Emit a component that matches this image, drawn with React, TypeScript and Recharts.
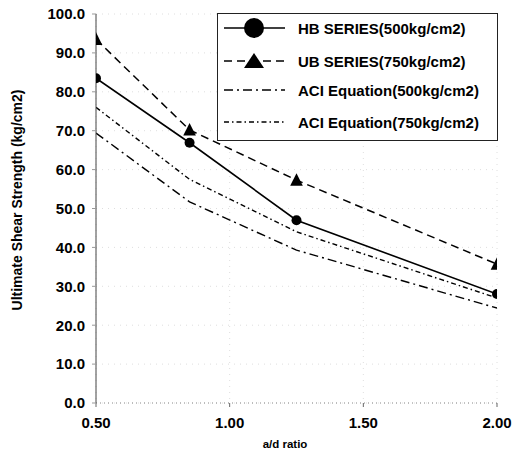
import { LineChart, Line, XAxis, YAxis, CartesianGrid, Label } from 'recharts';

const ratios = [0.5, 0.85, 1.25, 2.0];
const hbSeries = [83.5, 66.9, 47.0, 28.0];
const ubSeries = [93.5, 70.2, 57.3, 35.7];
const aci500 = [69.4, 51.7, 39.3, 24.4];
const aci750 = [76.0, 57.5, 44.0, 27.0];

const xTicks = [0.5, 1.0, 1.5, 2.0];
const yTicks = [0, 10, 20, 30, 40, 50, 60, 70, 80, 90, 100];

const SERIES = [
  { key: 'hb', name: 'HB SERIES(500kg/cm2)', dash: undefined as string | undefined, marker: 'circle' },
  { key: 'ub', name: 'UB SERIES(750kg/cm2)', dash: '8 5', marker: 'triangle' },
  { key: 'aci500', name: 'ACI Equation(500kg/cm2)', dash: '9 4 2 4', marker: 'none' },
  { key: 'aci750', name: 'ACI Equation(750kg/cm2)', dash: '5 3 1.5 3', marker: 'none' },
];

const data = ratios.map((r, i) => ({
  ratio: r,
  hb: hbSeries[i],
  ub: ubSeries[i],
  aci500: aci500[i],
  aci750: aci750[i],
}));

const FONT = '"Liberation Sans", Arial, sans-serif';

function CircleDot(props: any) {
  const { cx, cy, index } = props;
  return <circle key={`c-${index}`} cx={cx} cy={cy} r={5} fill="#000" />;
}

function TriangleDot(props: any) {
  const { cx, cy, index } = props;
  const s = 6.3;
  return (
    <path
      key={`t-${index}`}
      d={`M${cx},${cy - s * 1.1} L${cx + s},${cy + s * 0.9} L${cx - s},${cy + s * 0.9} Z`}
      fill="#000"
    />
  );
}

// legend box drawn over the plot, top right
function LegendBox() {
  const rows = [28, 61, 90, 122];
  return (
    <div
      style={{
        position: 'absolute',
        left: 217,
        top: 13,
        width: 281,
        height: 128,
        border: '1px solid #222',
        background: '#fff',
        boxSizing: 'border-box',
      }}
    >
      <svg width={279} height={126} style={{ position: 'absolute', left: 0, top: 0 }}>
        {SERIES.map((s, i) => {
          const y = rows[i] - 14;
          return (
            <g key={s.key}>
              <line x1={6} x2={67} y1={y} y2={y} stroke="#000" strokeWidth={1.4} strokeDasharray={s.dash} />
              {s.marker === 'circle' && <circle cx={36} cy={y} r={10} fill="#000" />}
              {s.marker === 'triangle' && (
                <path d={`M36,${y - 8} L46,${y + 7} L26,${y + 7} Z`} fill="#000" />
              )}
              <text x={80} y={y + 5.5} fontSize={15} fontWeight="bold" fill="#000" fontFamily={FONT}>
                {s.name}
              </text>
            </g>
          );
        })}
      </svg>
    </div>
  );
}

export default function App() {
  return (
    <div style={{ position: 'absolute', left: 0, top: 0, width: 520, height: 453, background: '#fff' }}>
      <LineChart
        width={520}
        height={453}
        data={data}
        margin={{ top: 14, right: 23, bottom: 0, left: 0 }}
        style={{ fontFamily: FONT }}
      >
        <CartesianGrid stroke="#d6d6d6" strokeDasharray="1 5" strokeWidth={0.8} />
        <XAxis
          dataKey="ratio"
          type="number"
          domain={[0.5, 2]}
          ticks={xTicks}
          tickFormatter={(v: number) => v.toFixed(2)}
          height={50}
          tickSize={4}
          tickMargin={10}
          tick={{ fontSize: 15, fontWeight: 'bold', fill: '#000', fontFamily: FONT }}
          axisLine={{ stroke: '#888', strokeDasharray: '1 3' }}
          tickLine={{ stroke: '#666' }}
          allowDataOverflow
        >
          <Label
            content={() => (
              <text x={285} y={448} textAnchor="middle" fontSize={11.5} fontWeight="bold" fill="#000" fontFamily={FONT}>
                a/d ratio
              </text>
            )}
          />
        </XAxis>
        <YAxis
          type="number"
          domain={[0, 100]}
          ticks={yTicks}
          tickFormatter={(v: number) => v.toFixed(1)}
          width={96}
          tickSize={4}
          tickMargin={7}
          tick={{ fontSize: 15, fontWeight: 'bold', fill: '#000', fontFamily: FONT }}
          axisLine={{ stroke: '#444' }}
          tickLine={{ stroke: '#999' }}
        >
          <Label
            content={() => (
              <text
                x={17}
                y={200}
                transform="rotate(-90 17 200)"
                textAnchor="middle"
                dominantBaseline="central"
                fontSize={14}
                fontWeight="bold"
                fill="#000"
                fontFamily={FONT}
              >
                Ultimate Shear Strength (kg/cm2)
              </text>
            )}
          />
        </YAxis>
        <Line
          type="linear"
          dataKey="aci500"
          name="ACI Equation(500kg/cm2)"
          stroke="#000"
          strokeWidth={1.4}
          strokeDasharray="9 4 2 4"
          dot={false}
          isAnimationActive={false}
        />
        <Line
          type="linear"
          dataKey="aci750"
          name="ACI Equation(750kg/cm2)"
          stroke="#000"
          strokeWidth={1.4}
          strokeDasharray="5 3 1.5 3"
          dot={false}
          isAnimationActive={false}
        />
        <Line
          type="linear"
          dataKey="ub"
          name="UB SERIES(750kg/cm2)"
          stroke="#000"
          strokeWidth={1.5}
          strokeDasharray="8 5"
          dot={TriangleDot}
          isAnimationActive={false}
        />
        <Line
          type="linear"
          dataKey="hb"
          name="HB SERIES(500kg/cm2)"
          stroke="#000"
          strokeWidth={1.6}
          dot={CircleDot}
          isAnimationActive={false}
        />
      </LineChart>
      <LegendBox />
    </div>
  );
}
